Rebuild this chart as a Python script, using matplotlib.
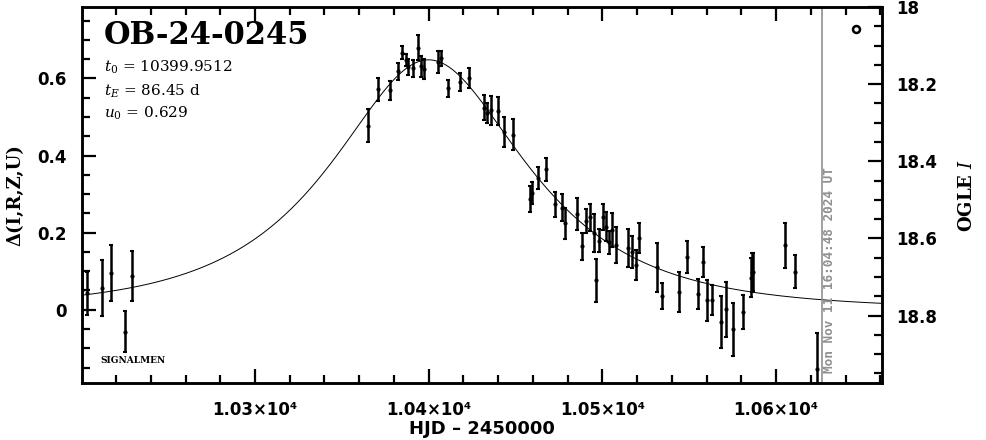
import numpy as np
import matplotlib
matplotlib.use("Agg")
import matplotlib.pyplot as plt
from matplotlib.ticker import MultipleLocator, FuncFormatter

# event + model parameters (as printed on the chart)
event_name = "OB-24-0245"
t0 = 10399.9512
tE = 86.45
u0 = 0.629
now_hjd = 10626.2
now_label = "Mon Nov 11 16:04:48 2024 UT"
I_base = 18.785

# photometry: HJD-2450000, delta mag, error
hjd = [10200.2, 10203.1, 10211.7, 10217.1, 10225.1, 10229.4,
       10365.0, 10370.8, 10377.9, 10382.1, 10384.8, 10387.1, 10388.1, 10391.0,
       10393.8, 10395.7, 10397.3, 10405.4, 10407.3, 10411.1, 10417.9, 10423.1,
       10431.9, 10433.8, 10436.1, 10439.9, 10443.2, 10448.8, 10458.2, 10459.5,
       10463.0, 10467.4, 10473.0, 10476.8, 10478.7, 10485.6, 10488.0, 10490.8,
       10492.8, 10495.1, 10496.3, 10498.0, 10500.1, 10502.0, 10503.9, 10505.8,
       10508.1, 10514.9, 10517.2, 10519.1, 10521.2, 10531.2, 10534.1, 10544.3,
       10548.9, 10555.2, 10558.1, 10560.0, 10562.9, 10568.1, 10571.0, 10575.0,
       10581.2, 10585.4, 10585.9, 10586.5, 10605.2, 10611.1, 10623.4]
dmag = [0.052, 0.043, 0.057, 0.095, -0.057, 0.088,
        0.477, 0.572, 0.569, 0.618, 0.666, 0.647, 0.629, 0.626,
        0.680, 0.631, 0.624, 0.642, 0.652, 0.575, 0.590, 0.601,
        0.524, 0.509, 0.517, 0.515, 0.461, 0.454, 0.287, 0.303,
        0.342, 0.364, 0.273, 0.265, 0.224, 0.248, 0.165, 0.230,
        0.240, 0.200, 0.076, 0.179, 0.240, 0.215, 0.175, 0.207,
        0.168, 0.160, 0.150, 0.116, 0.186, 0.110, 0.036, 0.047,
        0.137, 0.041, 0.123, 0.025, 0.026, -0.032, 0.001, -0.051,
        -0.005, 0.083, 0.097, 0.098, 0.167, 0.099, -0.153]
derr = [0.047, 0.056, 0.072, 0.073, 0.053, 0.065,
        0.043, 0.030, 0.024, 0.023, 0.017, 0.016, 0.020, 0.022,
        0.033, 0.028, 0.025, 0.028, 0.019, 0.022, 0.024, 0.027,
        0.032, 0.026, 0.038, 0.037, 0.040, 0.040, 0.033, 0.028,
        0.028, 0.029, 0.032, 0.035, 0.041, 0.041, 0.035, 0.030,
        0.035, 0.049, 0.055, 0.030, 0.034, 0.038, 0.030, 0.043,
        0.047, 0.049, 0.042, 0.038, 0.040, 0.063, 0.034, 0.052,
        0.042, 0.039, 0.039, 0.053, 0.039, 0.067, 0.072, 0.068,
        0.044, 0.050, 0.050, 0.050, 0.059, 0.043, 0.093]

# Paczynski model from the printed parameters
tm = np.linspace(10199, 10662, 800)
u = np.sqrt(u0**2 + ((tm - t0) / tE)**2)
A = (u**2 + 2) / (u * np.sqrt(u**2 + 4))
model = 2.5 * np.log10(A)

plt.rcParams['mathtext.fontset'] = 'dejavuserif'

fig = plt.figure(figsize=(9.86, 4.40), dpi=100)
ax = fig.add_axes([0.0832, 0.1295, 0.8113, 0.8545])

ax.plot(tm, model, color='black', lw=0.7)
ax.errorbar(hjd, dmag, yerr=derr, fmt='o', ms=2, color='black',
            elinewidth=1.8, capsize=1.5, capthick=1.5)

ax.set_xlim(10200.4, 10661.0)
ax.set_ylim(-0.19, 0.785)

ax.axvline(now_hjd, color='#909090', lw=1.2)
ax.text(now_hjd + 1.0, -0.165, now_label, rotation=90, ha='left', va='bottom',
        color='#909090', fontsize=9.2, family='DejaVu Sans Mono', weight='bold')

ax.plot([10646], [0.727], marker='o', ms=5, mfc='white', mec='black', mew=1.8)

ax.text(0.027, 0.925, event_name, transform=ax.transAxes, fontsize=22,
        family='DejaVu Serif', weight='bold', va='center')
ax.text(0.027, 0.840, r"$t_0$ = 10399.9512", transform=ax.transAxes,
        fontsize=11, family='DejaVu Serif', va='center')
ax.text(0.027, 0.777, r"$t_E$ = 86.45 d", transform=ax.transAxes,
        fontsize=11, family='DejaVu Serif', va='center')
ax.text(0.027, 0.718, r"$u_0$ = 0.629", transform=ax.transAxes,
        fontsize=11, family='DejaVu Serif', va='center')
ax.text(10229.6, -0.132, "SIGNALMEN", fontsize=6.5, family='DejaVu Serif',
        weight='bold', ha='center', va='center')

ax.xaxis.set_major_locator(MultipleLocator(100))
ax.xaxis.set_minor_locator(MultipleLocator(20))
ax.xaxis.set_major_formatter(FuncFormatter(lambda v, p: f"{v/1e4:.2f}×10⁴"))
ax.yaxis.set_major_locator(MultipleLocator(0.2))
ax.yaxis.set_minor_locator(MultipleLocator(0.05))
ax.yaxis.set_major_formatter(FuncFormatter(lambda v, p: "0" if abs(v) < 1e-9 else f"{v:.1f}"))

ax2 = ax.twinx()
ax2.set_ylim(I_base + 0.19, I_base - 0.785)
ax2.yaxis.set_major_locator(MultipleLocator(0.2))
ax2.yaxis.set_minor_locator(MultipleLocator(0.05))
ax2.yaxis.set_major_formatter(FuncFormatter(lambda v, p: "18" if abs(v - 18) < 1e-9 else f"{v:.1f}"))

for a in (ax, ax2):
    for s in a.spines.values():
        s.set_linewidth(1.8)
ax.tick_params(which='both', direction='in', top=True, right=False, width=1.6,
               labelsize=12)
ax.tick_params(which='major', length=10)
ax.tick_params(which='minor', length=5.5)
ax.tick_params(axis='x', pad=13)
ax.tick_params(axis='y', pad=11)
ax2.tick_params(which='both', direction='in', width=1.6, labelsize=12)
ax2.tick_params(which='major', length=10, pad=10)
ax2.tick_params(which='minor', length=5.5)
for lab in ax.get_xticklabels() + ax.get_yticklabels() + ax2.get_yticklabels():
    lab.set_fontweight('bold')

ax.set_xlabel("HJD – 2450000", fontsize=13, weight='bold', family='DejaVu Sans', labelpad=1)
ax.set_ylabel("Δ(I,R,Z,U)", fontsize=13, weight='bold', family='DejaVu Serif', labelpad=9)
ax2.set_ylabel("OGLE $I$", fontsize=13, weight='bold', family='DejaVu Serif', labelpad=15)

fig.savefig("out.png", dpi=100)
